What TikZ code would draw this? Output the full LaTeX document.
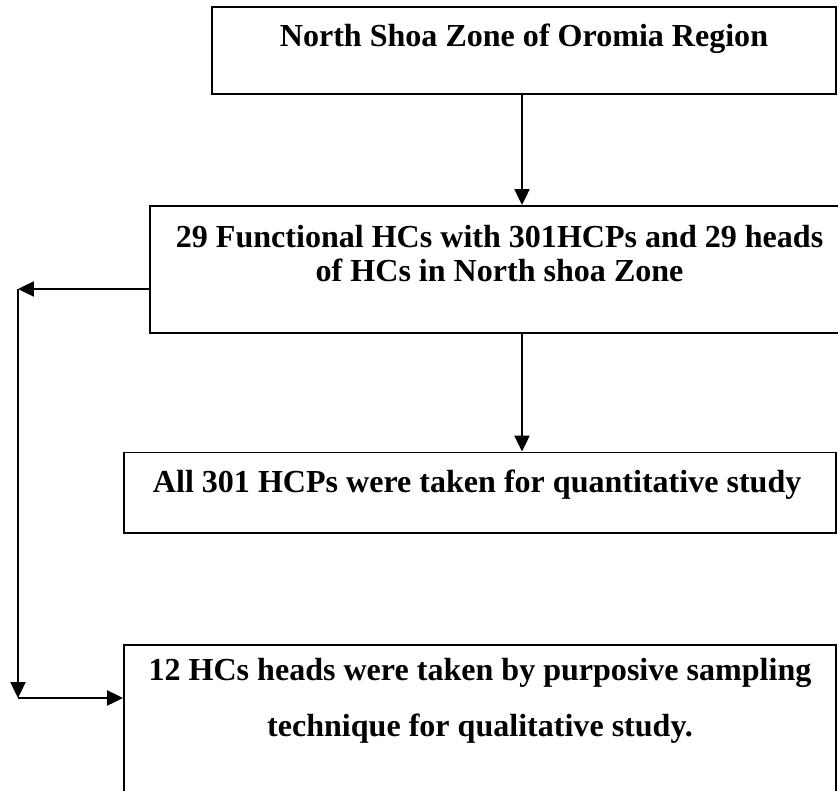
\documentclass[tikz,border=0pt]{standalone}
\usepackage{fontspec}
\setmainfont{Liberation Serif}
\usetikzlibrary{arrows.meta, positioning}

\begin{document}
\begin{tikzpicture}[
      box/.style={rectangle, draw=black, line width=1.4pt, inner sep=0pt},
      txt/.style={font=\fontsize{22.8}{25}\bfseries, anchor=base, inner sep=0pt},
      arr/.style={-{Triangle[width=0.38cm, length=0.4cm]}, line width=1.2pt}
    ]
    \useasboundingbox (0,0) rectangle (20.95,-19.775);

    %--- boxes ---
    \node[box, minimum width=15.6cm, minimum height=2.175cm] (zone) at (13.1,-1.2625) {};
    \node[box, minimum width=17.5cm, minimum height=3.175cm] (hcs) at (12.5,-6.7375) {};
    \node[box, minimum width=17.8cm, minimum height=2.0125cm] (quant) at (12.0,-12.31875) {};
    \node[box, minimum width=17.8cm, minimum height=4.375cm] (qual) at (12.0,-18.3125) {};

    %--- texts ---
    \node[txt] (zonetxt) at (13.1,-1.175) {North Shoa Zone of Oromia Region};
    \node[txt] (hcstxt1) at (12.49,-6.175) {29 Functional HCs with 301HCPs and 29 heads};
    \node[txt] (hcstxt2) at (12.49,-7.03) {of HCs in North shoa Zone};
    \node[txt] (quanttxt) at (11.93,-12.3) {All 301 HCPs were taken for quantitative study};
    \node[txt] (qualtxt1) at (12.0,-17.0) {12 HCs heads were taken by purposive sampling};
    \node[txt] (qualtxt2) at (12.0,-18.4) {technique for qualitative study.};

    %--- connectors ---
    \coordinate (mid) at (13.05,0);
    \draw[arr] (mid |- zone.south) -- (mid |- hcs.north);
    \draw[arr] (mid |- hcs.south) -- (mid |- quant.north);
    \coordinate (bendtop) at (0.45,-7.225);
    \coordinate (bendbot) at (0.45,-17.45);
    \draw[arr] (bendtop -| hcs.west) -- (bendtop);
    \draw[arr] (bendtop) -- (bendbot);
    \draw[arr] (bendbot) -- (bendbot -| qual.west);
  \end{tikzpicture}
\end{document}
